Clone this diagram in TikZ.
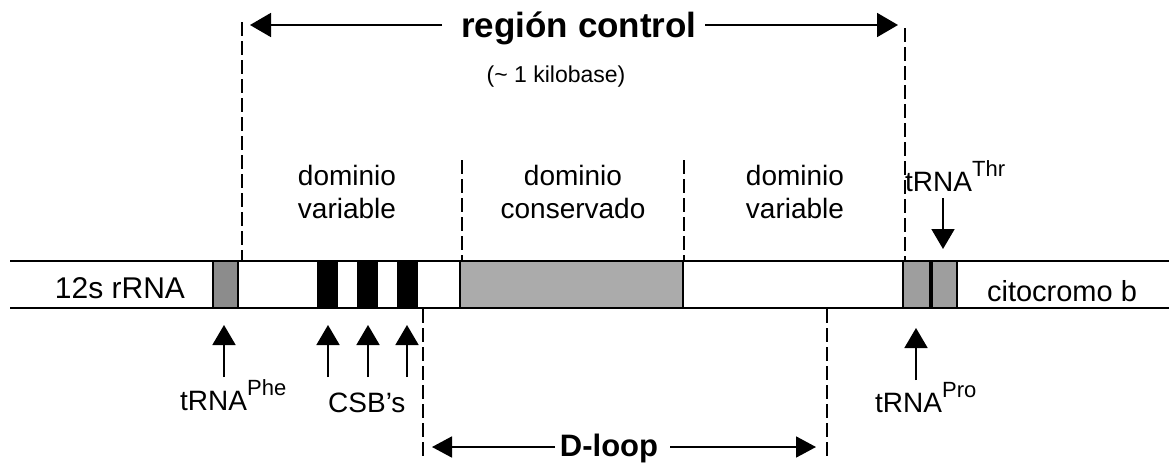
\documentclass[tikz,border=0pt]{standalone}
\usepackage{fontspec}
\setmainfont{Liberation Sans}
\usetikzlibrary{arrows.meta}
% raised, smaller superscript for the tRNA names
\newcommand\trnasup[1]{\raisebox{15pt}{\fontsize{22pt}{22pt}\selectfont #1}}
\begin{document}
\begin{tikzpicture}[x=1pt,y=-1pt,
  lbl/.style={font=\fontsize{28pt}{30pt}\selectfont, inner sep=0pt},
  seg/.style={draw, line width=1.6pt, minimum height=47pt, inner sep=0pt,
              outer sep=0pt, anchor=north west},
  guide/.style={line width=1.8pt, dash pattern=on 14pt off 5pt},
  pointer/.style={line width=1.8pt, -{Triangle[length=20pt,width=23pt]}},
  span/.style={line width=1.8pt, -{Triangle[length=21pt,width=24pt]}},
]
\useasboundingbox (0,0) rectangle (1169,466);

% --- genes and blocks on the strand ---
\node[seg, minimum width=25pt, fill=black!45] (phe) at (213,261) {};
\node[seg, minimum width=19pt, fill=black] (csb1) at (318,261) {};
\node[seg, minimum width=19pt, fill=black] (csb2) at (358,261) {};
\node[seg, minimum width=19pt, fill=black] (csb3) at (398,261) {};
\node[seg, minimum width=223pt, fill=black!33] (cons) at (460,261) {};
\node[seg, minimum width=27pt, fill=black!38] (pro) at (903,261) {};
\node[seg, minimum width=25pt, fill=black!38] (thr) at (932,261) {};

% strand outline
\draw[line width=2pt] (10,261) -- (1169,261) (10,308) -- (1169,308);

\node[lbl, font=\fontsize{30pt}{30pt}\selectfont, anchor=base] (rrna) at (120,298) {12s rRNA};
\node[lbl, font=\fontsize{29pt}{30pt}\selectfont, anchor=base] (cytb) at (1062,301) {citocromo b};

% --- boundary guides ---
\coordinate (rcL-top) at (242,22);   \coordinate (rcL-bot) at (242,261);
\coordinate (rcR-top) at (905,28);   \coordinate (rcR-bot) at (905,261);
\coordinate (cL-top) at (462,160);   \coordinate (cL-bot) at (462,261);
\coordinate (cR-top) at (684,160);   \coordinate (cR-bot) at (684,261);
\coordinate (dL-top) at (423,309);   \coordinate (dL-bot) at (423,460);
\coordinate (dR-top) at (827,309);   \coordinate (dR-bot) at (827,460);
\draw[guide] (rcL-top) -- (rcL-bot);
\draw[guide] (rcR-top) -- (rcR-bot);
\draw[guide] (cL-top) -- (cL-bot);
\draw[guide] (cR-top) -- (cR-bot);
\draw[guide] (dL-top) -- (dL-bot);
\draw[guide] (dR-top) -- (dR-bot);

% --- control region span ---
\node[font=\fontsize{35pt}{36pt}\selectfont\bfseries, inner sep=0pt, anchor=base] (rc) at (579,37) {región control};
\node[font=\fontsize{23pt}{24pt}\selectfont, inner sep=0pt, anchor=base] (kb) at (556,82) {(\char`\~\ 1 kilobase)};
\coordinate (rc-ls) at (442,25); \coordinate (rc-le) at (250,25);
\coordinate (rc-rs) at (705,25); \coordinate (rc-re) at (898,25);
\draw[span] (rc-ls) -- (rc-le);
\draw[span] (rc-rs) -- (rc-re);

% --- domain labels ---
\node[lbl, anchor=base] (dv1a) at (347,185) {dominio};
\node[lbl, anchor=base] (dv1b) at (347,218) {variable};
\node[lbl, anchor=base] (dca) at (573,185) {dominio};
\node[lbl, anchor=base] (dcb) at (573,218) {conservado};
\node[lbl, anchor=base] (dv2a) at (795,185) {dominio};
\node[lbl, anchor=base] (dv2b) at (795,218) {variable};

% --- D-loop span ---
\node[font=\fontsize{31pt}{32pt}\selectfont\bfseries, inner sep=0pt, anchor=base] (dloop) at (609,456) {D-loop};
\coordinate (dl-ls) at (555,447); \coordinate (dl-le) at (432,447);
\coordinate (dl-rs) at (670,447); \coordinate (dl-re) at (816,447);
\draw[span, -{Triangle[length=20pt,width=21pt]}] (dl-ls) -- (dl-le);
\draw[span, -{Triangle[length=20pt,width=21pt]}] (dl-rs) -- (dl-re);

% --- pointers to the tRNAs and CSBs ---
\coordinate (phe-t) at (224,377); \coordinate (phe-h) at (224,325);
\coordinate (c1-t) at (328,377);  \coordinate (c1-h) at (328,325);
\coordinate (c2-t) at (368,377);  \coordinate (c2-h) at (368,325);
\coordinate (c3-t) at (407,377);  \coordinate (c3-h) at (407,325);
\coordinate (pro-t) at (916,380); \coordinate (pro-h) at (916,328);
\coordinate (thr-t) at (943,198); \coordinate (thr-h) at (943,249);
\draw[pointer] (phe-t) -- (phe-h);
\draw[pointer] (c1-t) -- (c1-h);
\draw[pointer] (c2-t) -- (c2-h);
\draw[pointer] (c3-t) -- (c3-h);
\draw[pointer] (pro-t) -- (pro-h);
\draw[pointer] (thr-t) -- (thr-h);

\node[lbl, anchor=base west] (phe-lbl) at (180,410) {tRNA\trnasup{Phe}};
\node[lbl, anchor=base west] (csb-lbl) at (328,412) {CSB’s};
\node[lbl, anchor=base west] (pro-lbl) at (875,412) {tRNA\trnasup{Pro}};
\node[lbl, anchor=base west] (thr-lbl) at (905,191) {tRNA\trnasup{Thr}};
\end{tikzpicture}
\end{document}
